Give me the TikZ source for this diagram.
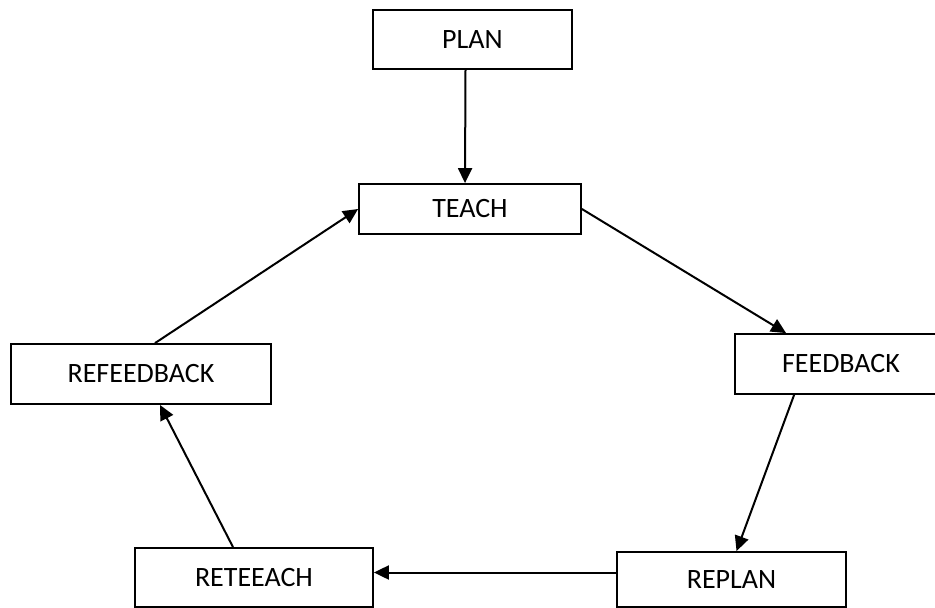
\documentclass[tikz,border=0pt]{standalone}
\usepackage{fontspec}
\setmainfont{Carlito}
\usepackage{tikz}
\usetikzlibrary{arrows.meta}

\begin{document}
\begin{tikzpicture}[x=1pt, y=-1pt,
		box/.style={draw = black, rectangle, line width=1.8pt, inner sep=0pt, font=\fontsize{28}{30}\selectfont},
		arr/.style={line width=2pt, -{Triangle[length=15pt, width=14pt]}}]
			\useasboundingbox (0,0) rectangle (935,608);
			\node (plan) [box, minimum width=199pt, minimum height=59pt] at (472.5,39.5){PLAN};
			\node (teach) [box, minimum width=222pt, minimum height=50pt] at (470,209){TEACH};
			\node (feed) [box, minimum width=212pt, minimum height=60pt] at (841,364){FEEDBACK};
			\node (replan) [box, minimum width=229pt, minimum height=55pt] at (731.5,579.5){REPLAN};
			\node (reteach) [box, minimum width=238pt, minimum height=59pt] at (254,577.5){RETEEACH};
			\node (refeed) [box, minimum width=260pt, minimum height=60pt] at (141,374){REFEEDBACK};
			
			\draw[arr] ([xshift=-7pt]plan.south)--([xshift=-5pt]teach.north);
			\draw[arr] (teach.east)--([xshift=52pt]feed.north west);
			\draw[arr] ([xshift=60pt]feed.south west)--([xshift=5pt]replan.north);
			\draw[arr] ([yshift=7pt]replan.west)--([yshift=5pt]reteach.east);
			\draw[arr] ([xshift=-21pt]reteach.north)--([xshift=19pt]refeed.south);
			\draw[arr] ([xshift=14pt]refeed.north)--(teach.west);
		\end{tikzpicture}
\end{document}
